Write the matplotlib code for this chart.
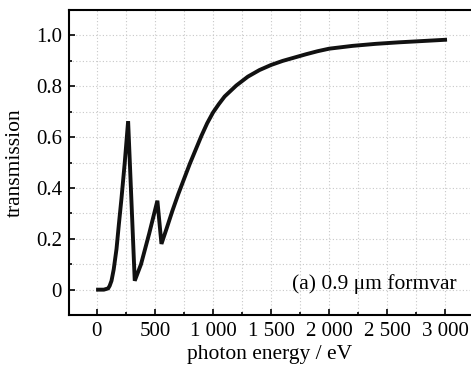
import numpy as np
import matplotlib.pyplot as plt
from matplotlib.ticker import MultipleLocator

# curve: photon energy (eV) and transmission
energia = [10, 60, 97, 110, 126, 145, 169, 190, 212, 240, 269,
           326, 380, 450, 521,
           556, 600, 650, 700, 750, 800, 850, 900, 950, 1000, 1050, 1100,
           1200, 1300, 1400, 1500, 1600, 1700, 1800, 1900, 2000, 2200, 2400,
           2600, 2800, 2998]
trasm = [0.0, 0.0, 0.005, 0.015, 0.035, 0.08, 0.16, 0.26, 0.36, 0.5, 0.663,
         0.035, 0.1, 0.22, 0.35,
         0.18, 0.24, 0.31, 0.375, 0.435, 0.495, 0.55, 0.605, 0.655, 0.697,
         0.73, 0.76, 0.803, 0.838, 0.864, 0.884, 0.90, 0.913, 0.926, 0.938,
         0.948, 0.959, 0.967, 0.973, 0.978, 0.983]

xtick_val = [0, 500, 1000, 1500, 2000, 2500, 3000]
xtick_lab = ['0', '500', '1 000', '1 500', '2 000', '2 500', '3 000']
ytick_val = [0, 0.2, 0.4, 0.6, 0.8, 1.0]
ytick_lab = ['0', '0.2', '0.4', '0.6', '0.8', '1.0']

plt.rcParams['font.family'] = ['Liberation Serif', 'DejaVu Serif']

fig = plt.figure(figsize=(4.71, 3.72), dpi=100)
ax = fig.add_axes([0.1465, 0.153, 0.852, 0.82])

ax.plot(energia, trasm, color='#111111', lw=2.8, solid_joinstyle='miter')

ax.set_xlim(-240, 3215)
ax.set_ylim(-0.1, 1.1)
ax.set_xticks(xtick_val)
ax.set_xticklabels(xtick_lab)
ax.set_yticks(ytick_val)
ax.set_yticklabels(ytick_lab)
ax.xaxis.set_minor_locator(MultipleLocator(250))
ax.yaxis.set_minor_locator(MultipleLocator(0.1))
ax.tick_params(which='both', direction='in', top=False, right=False,
               labelsize=15, width=1.2)
ax.tick_params(which='major', length=4, pad=5)
ax.tick_params(which='minor', length=2.5)
ax.grid(which='both', color='#c8c8c8', linestyle=(0, (1, 2)), lw=0.8)
ax.set_axisbelow(True)

ax.spines['right'].set_visible(False)
for s in ['left', 'bottom', 'top']:
    ax.spines[s].set_linewidth(1.5)

ax.set_xlabel('photon energy / eV', fontsize=15.5, labelpad=3)
ax.set_ylabel('transmission', fontsize=15.5, labelpad=8)
ax.text(0.965, 0.135, '(a) 0.9 μm formvar', transform=ax.transAxes,
        ha='right', va='top', fontsize=15.5)

fig.savefig('out.png', dpi=100)
